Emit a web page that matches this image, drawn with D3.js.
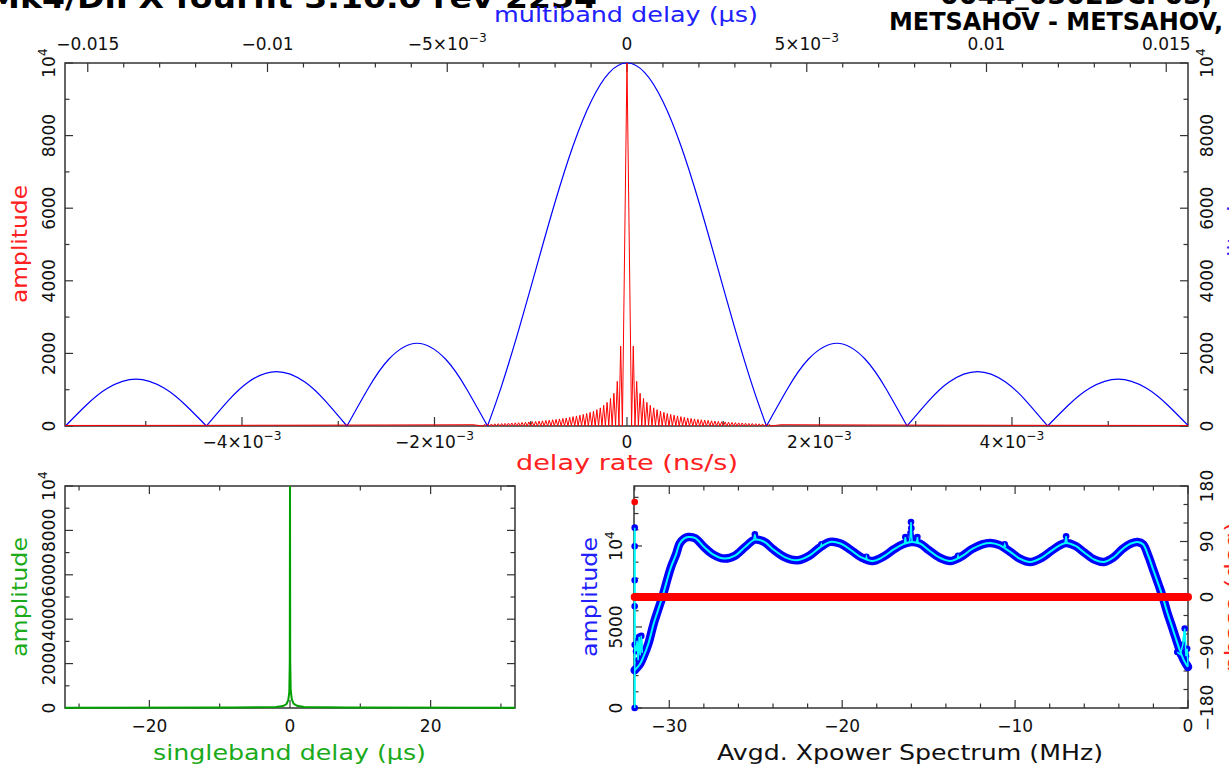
<!DOCTYPE html>
<html><head><meta charset="utf-8">
<script src="https://cdn.jsdelivr.net/npm/d3@7"></script>
<style>
html,body{margin:0;padding:0;background:#fff;}
svg{display:block;}
text{font-family:"DejaVu Sans",sans-serif;}
</style></head><body>
<svg id="chart" width="1229" height="773"></svg>
<script>
// ---------------- DATA ----------------
const titleLeft = "Mk4/DiFX fourfit  3.10.0  rev 2254";
const titleRight1 = "0044_0302DCF03,";
const titleRight2 = "METSAHOV - METSAHOV,";

// top panel: multiband delay function (blue), delay in µs vs amplitude
const mbdDelay = [-0.01562,-0.01503,-0.01444,-0.01366,-0.01288,-0.01229,-0.01170,
  -0.01111,-0.01053,-0.00975,-0.00896,-0.00838,-0.00779,
  -0.00720,-0.00662,-0.00584,-0.00505,-0.00447,-0.00388,
  -0.0035,-0.003,-0.0025,-0.002,-0.0015,-0.001,-0.0005,0,0.0005,0.001,0.0015,0.002,0.0025,0.003,0.0035,
  0.00388,0.00447,0.00505,0.00584,0.00662,0.00720,0.00779,
  0.00838,0.00896,0.00975,0.01053,0.01111,0.01170,
  0.01229,0.01288,0.01366,0.01444,0.01503,0.01562];
const mbdAmp = [0,585,1045,1290,1045,585,0,
  680,1215,1500,1215,680,0,
  1035,1845,2280,1845,1035,0,
  1070,2690,4440,6170,7720,8940,9730,10000,9730,8940,7720,6170,4440,2690,1070,
  0,1035,1845,2280,1845,1035,0,
  680,1215,1500,1215,680,0,
  585,1045,1290,1045,585,0];

// top panel: delay-rate function (red), delay rate in ns/s
const rateCoreX = [-4.78e-5, 0, 4.78e-5];
const rateCoreAmp = [0, 10000, 0];
const rateSideStart = 4.78e-5;   // first sidelobe zero
const rateSideStep = 1.767e-5;   // spacing of successive extrema
const rateSideAmp = [0,2200,0,1230,0,900,0,760,0,650,0,570,0,500,0,450,0,410,0,375,
  0,345,0,320,0,298,0,278,0,258,0,240,0,222,0,208,0,195,0,183,0,172,0,162,0,152,0,143,
  0,134,0,126,0,118,0,111,0,104,0,98,0,92,0,87,0,82,0,77,0,72,0,68,0,64,0,60,0,56,0,53,0,50,0];
const rateTailX = [0.0016, 0.0025, 0.0035, 0.0045, 0.00584];
const rateTailAmp = [35, 28, 22, 18, 15];

// bottom-left: singleband delay (green)
const sbdX = [-32,-8,-2,-1,-0.5,-0.25,-0.1,-0.03,0,0.03,0.1,0.25,0.5,1,2,8,32];
const sbdAmp = [15,25,50,90,180,350,700,2100,10000,2150,800,400,200,100,50,25,15];

// bottom-right: averaged cross-power spectrum
const xpFreq = [-32.0,-31.7,-31.5,-31.2,-30.9,-30.6,-30.4,-30.15,-29.9,-29.6,-29.4,-29.15,-28.9,-28.5,-28.0,-27.5,-26.8,-26.2,-25.6,-25.05,-24.5,-24.0,-23.3,-22.6,-21.9,-21.3,-20.7,-20.1,-19.5,-18.9,-18.25,-17.6,-17.0,-16.5,-16.0,-15.5,-15.0,-14.4,-13.74,-13.1,-12.5,-11.9,-11.43,-10.9,-10.3,-9.7,-9.13,-8.5,-7.9,-7.4,-7.05,-6.5,-6.0,-5.4,-4.86,-4.3,-3.8,-3.3,-2.92,-2.6,-2.3,-2.0,-1.7,-1.46,-1.2,-0.95,-0.73,-0.5,-0.24,0];
const xpAmp = [2330,2700,3150,4000,5210,6200,6850,7800,8700,9500,10150,10450,10555,10480,9950,9500,9220,9400,9950,10390,10250,9800,9300,9120,9400,9900,10250,10150,9750,9300,9070,9350,9800,10100,10250,10150,9750,9300,9070,9350,9800,10100,10185,10050,9650,9200,9010,9250,9700,10050,10185,10000,9600,9150,9010,9300,9800,10150,10250,10100,9400,8500,7600,6850,5900,5100,4380,3650,2950,2530];
const xpSpikes = [
  {f:[-32.0,-32.0,-32.0,-32.0,-32.0,-32.0,-32.0,-31.92,-31.86,-31.8,-31.74,-31.68,-31.62,-31.56],
   a:[2330,0,11130,9980,7880,6280,3900,3500,4150,2950,4400,3250,4450,3400]},
  {f:[-25.12,-25.05,-24.98], a:[10380,10720,10380]},
  {f:[-21.25,-21.2,-21.15], a:[9950,10100,9960]},
  {f:[-18.65,-18.6,-18.55], a:[9150,9330,9140]},
  {f:[-16.4,-16.35,-16.3,-16.1,-16.05,-16.02,-16.0,-15.98,-15.95,-15.7,-15.65,-15.6],
   a:[10150,10550,10200,10250,10800,11480,11100,10550,10250,10200,10550,10150]},
  {f:[-13.35,-13.3,-13.25], a:[9200,9400,9220]},
  {f:[-10.65,-10.6,-10.55], a:[9950,10100,9930]},
  {f:[-7.12,-7.05,-6.98], a:[10150,10600,10150]},
  {f:[-0.62,-0.45,-0.3,-0.19,-0.12,-0.05,0], a:[3450,3300,3900,4900,3200,3650,2600]}
];
const phaseFreq = [-32, -24, -16, -8, 0];
const phaseDeg = [0, 0, 0, 0, 0];
const phaseOutFreq = [-32.0];
const phaseOutDeg = [154];

// tick labels
const mbdTickVals = [-0.015,-0.01,-0.005,0,0.005,0.01,0.015];
const mbdTickText = ["−0.015","−0.01","−5×10^−3","0","5×10^−3","0.01","0.015"];
const rateTickVals = [-0.004,-0.002,0,0.002,0.004];
const rateTickText = ["−4×10^−3","−2×10^−3","0","2×10^−3","4×10^−3"];
const ampTickVals = [0,2000,4000,6000,8000,10000];
const ampTickText = ["0","2000","4000","6000","8000","10^4"];
const sbdTickVals = [-20,0,20];
const sbdTickText = ["−20","0","20"];
const freqTickVals = [-30,-20,-10,0];
const freqTickText = ["−30","−20","−10","0"];
const xpAmpTickVals = [0,5000,10000];
const xpAmpTickText = ["0","5000","10^4"];
const phaseTickVals = [-180,-90,0,90,180];
const phaseTickText = ["−180","−90","0","90","180"];

// ---------------- DRAW ----------------
const svg = d3.select("#chart");
const P1 = {l:65, r:1188, t:63, b:426};
const P2 = {l:65, r:515, t:486, b:708};
const P3 = {l:634, r:1188, t:486, b:708};
const AX = "#333";
const BLUE = "#0000ff", RED = "#ff0000", GREEN = "#00a000", CYAN = "#00ffff";

const rateX = d3.scaleLinear().domain([-0.005839, 0.005829]).range([P1.l, P1.r]);
const mbdX = d3.scaleLinear().domain([-0.015633, 0.015605]).range([P1.l, P1.r]);
const ampY = d3.scaleLinear().domain([0, 10000]).range([P1.b, P1.t]);
const sbdXs = d3.scaleLinear().domain([-32, 32]).range([P2.l, P2.r]);
const sbdY = d3.scaleLinear().domain([0, 10000]).range([P2.b, P2.t]);
const fX = d3.scaleLinear().domain([-32.04, 0]).range([P3.l, P3.r]);
const xpY = d3.scaleLinear().domain([0, 13700]).range([P3.b, P3.t]);
const phY = d3.scaleLinear().domain([-180, 180]).range([P3.b, P3.t]);

function label(g, x, y, str, o = {}) {
  const size = o.size || 17;
  const t = g.append("text")
    .attr("transform", `translate(${x},${y})` + (o.rotate ? ` rotate(${o.rotate})` : ""))
    .attr("text-anchor", o.anchor || "middle")
    .attr("font-size", size)
    .attr("fill", o.color || "#111");
  if (o.weight) t.attr("font-weight", o.weight);
  if (o.family) t.attr("font-family", o.family);
  const parts = str.split("^");
  t.append("tspan").text(parts[0]);
  if (parts.length > 1) t.append("tspan").attr("font-size", size * 0.72).attr("dy", -size * 0.45).text(parts[1]);
  if (o.length) t.attr("textLength", o.length).attr("lengthAdjust", "spacingAndGlyphs");
  return t;
}

function hTicks(scale, vals, y, dir, len) {
  svg.append("g").selectAll("line").data(vals).join("line")
    .attr("x1", d => scale(d)).attr("x2", d => scale(d))
    .attr("y1", y).attr("y2", y + dir * len)
    .attr("stroke", AX).attr("stroke-width", 1.2);
}
function vTicks(scale, vals, x, dir, len) {
  svg.append("g").selectAll("line").data(vals).join("line")
    .attr("y1", d => scale(d)).attr("y2", d => scale(d))
    .attr("x1", x).attr("x2", x + dir * len)
    .attr("stroke", AX).attr("stroke-width", 1.2);
}
function frame(P) {
  svg.append("rect").attr("x", P.l).attr("y", P.t).attr("width", P.r - P.l).attr("height", P.b - P.t)
    .attr("fill", "none").attr("stroke", AX).attr("stroke-width", 1.5);
}
const isMajor = (v, step) => Math.abs(v / step - Math.round(v / step)) < 1e-6;

// ---- titles ----
label(svg, 597, 8, titleLeft, {anchor: "end", size: 29, weight: "bold", family: "Liberation Sans", color: "#000", length: 610});
label(svg, 940, 4, titleRight1, {anchor: "start", size: 27, weight: "bold", family: "Liberation Sans", color: "#000"});
svg.append("text").attr("x", 889).attr("y", 30).attr("font-size", 24).attr("font-weight", "bold")
  .attr("font-family", "Liberation Sans").attr("textLength", 334).attr("lengthAdjust", "spacingAndGlyphs")
  .text(titleRight2);

// ---- top panel ----
frame(P1);
const ampMinor = d3.range(0, 10001, 1000);
vTicks(ampY, ampMinor.filter(v => isMajor(v, 2000)), P1.l, 1, 8);
vTicks(ampY, ampMinor.filter(v => !isMajor(v, 2000)), P1.l, 1, 4.5);
vTicks(ampY, ampMinor.filter(v => isMajor(v, 2000)), P1.r, -1, 8);
vTicks(ampY, ampMinor.filter(v => !isMajor(v, 2000)), P1.r, -1, 4.5);
const mbdMinor = d3.range(-15, 16).map(v => v / 1000);
hTicks(mbdX, mbdMinor.filter(v => isMajor(v, 0.005)), P1.t, 1, 9);
hTicks(mbdX, mbdMinor.filter(v => !isMajor(v, 0.005)), P1.t, 1, 4.5);
const rateMinor = d3.range(-5, 6).map(v => v / 1000);
hTicks(rateX, rateMinor.filter(v => isMajor(v, 0.002)), P1.b, -1, 9);
hTicks(rateX, rateMinor.filter(v => !isMajor(v, 0.002)), P1.b, -1, 5);

mbdTickVals.forEach((v, i) => label(svg, mbdX(v), 50, mbdTickText[i]));
rateTickVals.forEach((v, i) => label(svg, rateX(v), 448, rateTickText[i]));
ampTickVals.forEach((v, i) => label(svg, 55, ampY(v), ampTickText[i], {rotate: -90}));
ampTickVals.forEach((v, i) => label(svg, 1213, ampY(v), ampTickText[i], {rotate: -90}));

label(svg, 626, 22, "multiband delay (μs)", {size: 21, color: "#2020ff", length: 264});
label(svg, 627, 470, "delay rate (ns/s)", {size: 21, color: "#ff2020", length: 222});
label(svg, 27, 244, "amplitude", {size: 21, color: "#ff2020", rotate: -90, length: 118});
label(svg, 1243, 250, "amplitude", {size: 21, color: "#2020ff", rotate: -90, length: 118});

svg.append("clipPath").attr("id", "c1").append("rect")
  .attr("x", P1.l).attr("y", P1.t - 2).attr("width", P1.r - P1.l).attr("height", P1.b - P1.t + 4);
const g1 = svg.append("g").attr("clip-path", "url(#c1)");

// blue multiband delay lobes (split at zeros)
const mbdPts = mbdDelay.map((d, i) => [d, mbdAmp[i]]);
const lobes = [];
let cur = [];
mbdPts.forEach((p) => {
  cur.push(p);
  if (p[1] === 0 && cur.length > 1) { lobes.push(cur); cur = [p]; }
});
if (cur.length > 1) lobes.push(cur);
const lobeLine = d3.line().x(d => mbdX(d[0])).y(d => ampY(d[1])).curve(d3.curveNatural);
g1.selectAll("path.lobe").data(lobes).join("path").attr("class", "lobe")
  .attr("d", lobeLine).attr("fill", "none").attr("stroke", BLUE).attr("stroke-width", 1.2);

// red delay-rate function
const sidePts = rateSideAmp.map((a, i) => [rateSideStart + i * rateSideStep, a]);
const tailPts = rateTailX.map((x, i) => [x, rateTailAmp[i]]);
const rightPts = sidePts.concat(tailPts);
const leftPts = rightPts.map(p => [-p[0], p[1]]).reverse();
const ratePts = leftPts.concat(rateCoreX.map((x, i) => [x, rateCoreAmp[i]]), rightPts);
g1.append("path").datum(ratePts)
  .attr("d", d3.line().x(d => rateX(d[0])).y(d => ampY(d[1])))
  .attr("fill", "none").attr("stroke", RED).attr("stroke-width", 1.0);

// ---- bottom-left panel ----
frame(P2);
const sbdT = d3.range(-30, 31, 10);
hTicks(sbdXs, sbdT.filter(v => isMajor(v, 20)), P2.b, -1, 8);
hTicks(sbdXs, sbdT.filter(v => !isMajor(v, 20)), P2.b, -1, 4.5);
hTicks(sbdXs, sbdT.filter(v => isMajor(v, 20)), P2.t, 1, 8);
hTicks(sbdXs, sbdT.filter(v => !isMajor(v, 20)), P2.t, 1, 4.5);
vTicks(sbdY, ampMinor.filter(v => isMajor(v, 2000)), P2.l, 1, 8);
vTicks(sbdY, ampMinor.filter(v => !isMajor(v, 2000)), P2.l, 1, 4.5);
vTicks(sbdY, ampMinor.filter(v => isMajor(v, 2000)), P2.r, -1, 8);
vTicks(sbdY, ampMinor.filter(v => !isMajor(v, 2000)), P2.r, -1, 4.5);
sbdTickVals.forEach((v, i) => label(svg, sbdXs(v), 732, sbdTickText[i]));
ampTickVals.forEach((v, i) => label(svg, 55, sbdY(v), ampTickText[i], {rotate: -90}));
label(svg, 289.5, 760, "singleband delay (μs)", {size: 21, color: "#1aaa1a", length: 273});
label(svg, 27, 597, "amplitude", {size: 21, color: "#1aaa1a", rotate: -90, length: 120});

svg.append("path").datum(sbdX.map((x, i) => [x, sbdAmp[i]]))
  .attr("d", d3.line().x(d => sbdXs(d[0])).y(d => sbdY(d[1])))
  .attr("fill", "none").attr("stroke", GREEN).attr("stroke-width", 2);

// ---- bottom-right panel ----
frame(P3);
const fT = d3.range(-32, 1, 2);
hTicks(fX, fT.filter(v => isMajor(v, 10)), P3.b, -1, 8);
hTicks(fX, fT.filter(v => !isMajor(v, 10)), P3.b, -1, 4.5);
hTicks(fX, fT.filter(v => isMajor(v, 10)), P3.t, 1, 8);
hTicks(fX, fT.filter(v => !isMajor(v, 10)), P3.t, 1, 4.5);
const xaT = d3.range(0, 13001, 1000);
vTicks(xpY, xaT.filter(v => isMajor(v, 5000)), P3.l, 1, 8);
vTicks(xpY, xaT.filter(v => !isMajor(v, 5000)), P3.l, 1, 4.5);
const phT = d3.range(-180, 181, 30);
vTicks(phY, phT.filter(v => isMajor(v, 90)), P3.r, -1, 8);
vTicks(phY, phT.filter(v => !isMajor(v, 90)), P3.r, -1, 4.5);
freqTickVals.forEach((v, i) => label(svg, fX(v), 732, freqTickText[i]));
xpAmpTickVals.forEach((v, i) => label(svg, 622, xpY(v), xpAmpTickText[i], {rotate: -90}));
phaseTickVals.forEach((v, i) => label(svg, 1213, phY(v), phaseTickText[i], {rotate: -90}));
label(svg, 910, 760, "Avgd. Xpower Spectrum (MHz)", {size: 21, color: "#111", length: 386});
label(svg, 597, 597, "amplitude", {size: 21, color: "#2020ff", rotate: -90, length: 120});
label(svg, 1240, 597, "phase (deg)", {size: 21, color: "#ff2020", rotate: -90, length: 150});

const xpLine = d3.line().x(d => fX(d[0])).y(d => xpY(d[1])).curve(d3.curveCatmullRom.alpha(0.5));
const xpPts = xpFreq.map((f, i) => [f, xpAmp[i]]);
// outlier spikes (cyan connectors + blue dots)
const spikeG = svg.append("g");
xpSpikes.forEach(s => {
  const pts = s.f.map((f, i) => [f, s.a[i]]);
  spikeG.append("path").datum(pts).attr("d", d3.line().x(d => fX(d[0])).y(d => xpY(d[1])))
    .attr("fill", "none").attr("stroke", CYAN).attr("stroke-width", 2);
});
svg.append("path").datum(xpPts).attr("d", xpLine).attr("fill", "none")
  .attr("stroke", BLUE).attr("stroke-width", 8.5).attr("stroke-linejoin", "round").attr("stroke-linecap", "round");
xpSpikes.forEach(s => {
  spikeG.selectAll(null).data(s.f.map((f, i) => [f, s.a[i]])).join("circle")
    .attr("cx", d => fX(d[0])).attr("cy", d => xpY(d[1])).attr("r", 3.3).attr("fill", BLUE);
});
svg.append("path").datum(xpPts).attr("d", xpLine).attr("fill", "none")
  .attr("stroke", CYAN).attr("stroke-width", 2);
xpSpikes.forEach(s => {
  svg.append("path").datum(s.f.map((f, i) => [f, s.a[i]])).attr("d", d3.line().x(d => fX(d[0])).y(d => xpY(d[1])))
    .attr("fill", "none").attr("stroke", CYAN).attr("stroke-width", 1.5);
});
// phase
svg.append("path").datum(phaseFreq.map((f, i) => [f, phaseDeg[i]]))
  .attr("d", d3.line().x(d => fX(d[0])).y(d => phY(d[1])))
  .attr("fill", "none").attr("stroke", RED).attr("stroke-width", 8).attr("stroke-linecap", "round");
svg.selectAll("circle.phout").data(phaseOutFreq.map((f, i) => [f, phaseOutDeg[i]])).join("circle")
  .attr("class", "phout").attr("cx", d => fX(d[0])).attr("cy", d => phY(d[1])).attr("r", 3.3).attr("fill", RED);
</script></body></html>
